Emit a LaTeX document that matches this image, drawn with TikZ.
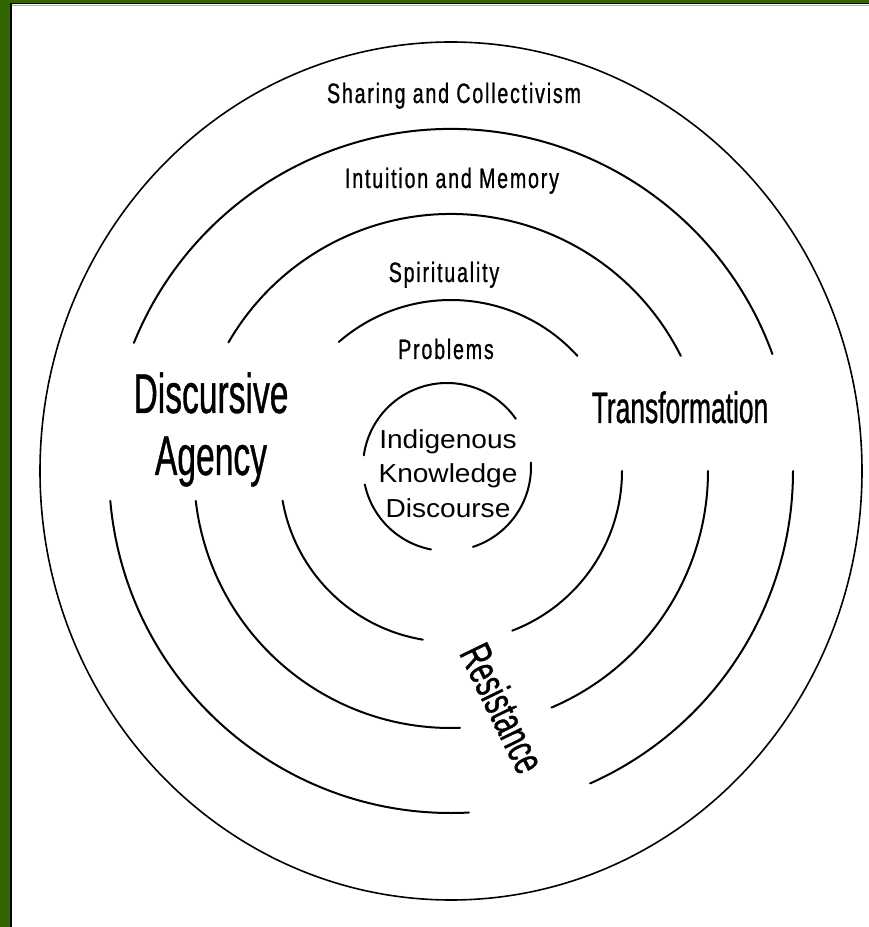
\documentclass[tikz,border=0pt]{standalone}
\usepackage{fontspec}
\setmainfont{Liberation Sans}
\newfontfamily\ringfont[FakeStretch=0.7,LetterSpace=6.5,FakeBold=0.8]{Liberation Sans}
\newfontfamily\bigfont[FakeStretch=0.6,FakeBold=0.7]{Liberation Sans}
\definecolor{bordergreen}{RGB}{51,102,0}
\begin{document}
\begin{tikzpicture}[x=1pt,y=1pt,
  ring/.style={line width=2pt, line cap=round},
  ringlabel/.style={font=\ringfont\fontsize{28}{28}\selectfont, inner sep=0pt, anchor=base},
  biglabel/.style={font=\bigfont\fontsize{56}{56}\selectfont, inner sep=0pt, anchor=base},
  corelabel/.style={font=\fontsize{26}{26}\selectfont, inner sep=0pt, anchor=base, xscale=1.08}]
\useasboundingbox (0,0) rectangle (869,927);
% border
\fill[bordergreen] (0,0) rectangle (10,927);
\fill[bordergreen] (0,924) rectangle (869,927);
\draw[line width=1.5pt] (10.75,0) -- (10.75,923.25) -- (869,923.25);
\draw[line width=0.8pt, gray!60] (11.5,922) -- (869,922);
% centre
\coordinate (C) at (451,456);
\coordinate (IC) at (447,460);
% outer ellipse
\draw[line width=1.6pt] (C) ellipse [x radius=411pt, y radius=429pt];
% ring 2
\draw[ring] (C) ++(20:342pt) arc[start angle=20, end angle=158, radius=342pt];
\draw[ring] (C) ++(185:342pt) arc[start angle=185, end angle=273, radius=342pt];
\draw[ring] (C) ++(294:342pt) arc[start angle=294, end angle=360, radius=342pt];
% ring 3
\draw[ring] (C) ++(26.6:257pt) arc[start angle=26.6, end angle=150, radius=257pt];
\draw[ring] (C) ++(186.7:257pt) arc[start angle=186.7, end angle=272, radius=257pt];
\draw[ring] (C) ++(293:257pt) arc[start angle=293, end angle=360, radius=257pt];
% ring 4
\draw[ring] (C) ++(42.3:171pt) arc[start angle=42.3, end angle=131, radius=171pt];
\draw[ring] (C) ++(190:171pt) arc[start angle=190, end angle=260.5, radius=171pt];
\draw[ring] (C) ++(291:171pt) arc[start angle=291, end angle=360, radius=171pt];
% inner circle
\draw[ring] (IC) ++(35:84pt) arc[start angle=35, end angle=172, radius=84pt];
\draw[ring] (IC) ++(192:84pt) arc[start angle=192, end angle=259, radius=84pt];
\draw[ring] (IC) ++(288:84pt) arc[start angle=288, end angle=363, radius=84pt];
% labels
\node[ringlabel] (sharing) at (454,824) {Sharing and Collectivism};
\node[ringlabel] (intuition) at (452,739) {Intuition and Memory};
\node[ringlabel] (spirit) at (444,645) {Spirituality};
\node[ringlabel] (problems) at (446,568) {Problems};
\node[biglabel] (discursive) at (211,514) {Discursive};
\node[biglabel] (agency) at (211,452) {Agency};
\node[biglabel, font=\bigfont\fontsize{44}{44}\selectfont] (transf) at (680,504) {Transformation};
\node[font=\bigfont\fontsize{44}{44}\selectfont, inner sep=0pt, rotate=-64, xscale=1.05] (resist) at (503,219) {Resistance};
\node[corelabel] (indig) at (448,478) {Indigenous};
\node[corelabel] (know) at (448,444) {Knowledge};
\node[corelabel] (disc) at (448,409) {Discourse};
\end{tikzpicture}
\end{document}
